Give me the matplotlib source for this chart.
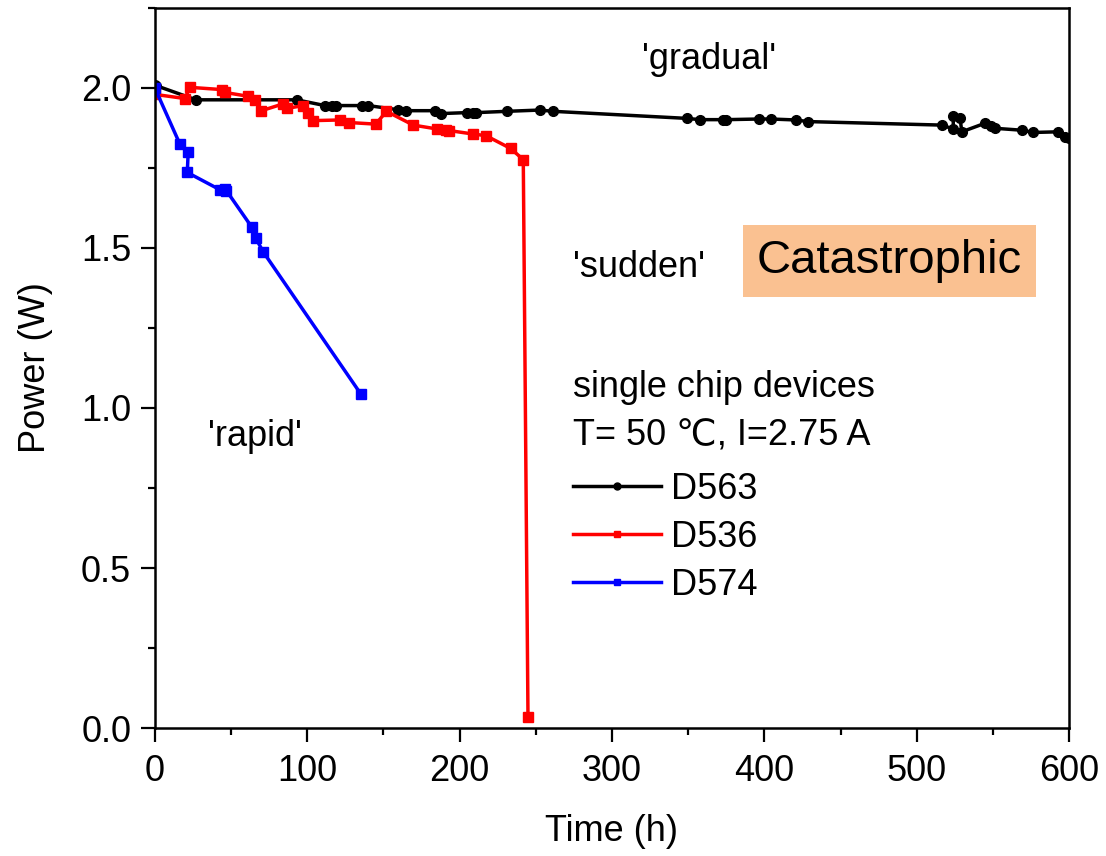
import numpy as np
import matplotlib
matplotlib.use('Agg')
import matplotlib.pyplot as plt
from matplotlib.ticker import MultipleLocator
from matplotlib.lines import Line2D

plt.rcParams['font.family'] = ['Liberation Sans', 'DejaVu Sans']

# D563 - 'gradual'
t_563 = [0, 1, 27, 93, 111.6, 116, 119, 135.7, 140, 159.7, 165, 183.8, 188,
         204.6, 209, 211, 230.9, 252.7, 261.5, 349, 357.8, 373, 375, 396.7,
         404.4, 420.8, 428.5, 516.4, 524, 524, 528.5, 529.6, 545, 549, 551.4,
         569, 576.6, 593, 597.4, 600]
p_563 = [2.01, 2.007, 1.963, 1.963, 1.945, 1.945, 1.945, 1.945, 1.945, 1.932,
         1.929, 1.929, 1.92, 1.923, 1.923, 1.923, 1.927, 1.931, 1.927, 1.905,
         1.901, 1.901, 1.901, 1.903, 1.903, 1.9, 1.895, 1.884, 1.872, 1.911,
         1.905, 1.863, 1.89, 1.882, 1.874, 1.868, 1.861, 1.863, 1.848, 1.845]

# D536 - 'sudden'
t_536 = [0, 19.7, 23, 43.8, 46, 61.3, 65.6, 70, 84, 86.5, 97.4, 100.5, 104,
         121.4, 127.6, 145, 152, 169.6, 185, 191.4, 193, 209, 217.3, 233.5,
         241.8, 244.9]
p_536 = [1.98, 1.967, 2.002, 1.995, 1.986, 1.974, 1.963, 1.929, 1.95, 1.936,
         1.945, 1.922, 1.898, 1.9, 1.892, 1.887, 1.927, 1.884, 1.872, 1.869,
         1.867, 1.856, 1.851, 1.811, 1.776, 0.034]

# D574 - 'rapid'
t_574 = [0, 16.4, 21.9, 21.3, 42.7, 46, 47, 63.5, 66.1, 71.1, 135]
p_574 = [2.0, 1.825, 1.801, 1.736, 1.682, 1.684, 1.679, 1.566, 1.532, 1.488,
         1.045]

fig = plt.figure(figsize=(11.06, 8.56), dpi=100)
ax = fig.add_axes([0.140, 0.1495, 0.8266, 0.8412])

ax.plot(t_563, p_563, '-o', color='black', lw=2.5, ms=7, label='D563')
ax.plot(t_536, p_536, '-s', color='#ff0000', lw=2.5, ms=7, label='D536')
ax.plot(t_574, p_574, '-s', color='#0000ff', lw=2.5, ms=7, label='D574')

ax.set_xlim(0, 600)
ax.set_ylim(0, 2.25)
ax.xaxis.set_major_locator(MultipleLocator(100))
ax.xaxis.set_minor_locator(MultipleLocator(50))
ax.yaxis.set_major_locator(MultipleLocator(0.5))
ax.yaxis.set_minor_locator(MultipleLocator(0.25))
ax.yaxis.set_major_formatter(plt.FormatStrFormatter('%.1f'))
ax.tick_params(which='major', direction='out', length=10, width=1.6, labelsize=26, pad=7)
ax.tick_params(axis='x', which='major', pad=9)
ax.tick_params(which='minor', direction='out', length=5, width=1.6)
for s in ax.spines.values():
    s.set_linewidth(1.8)

ax.set_xlabel('Time (h)', fontsize=26, labelpad=18)
ax.set_ylabel('Power (W)', fontsize=26, labelpad=20)

ax.text(364, 2.09, "'gradual'", fontsize=26, ha='center', va='center')
ax.text(318, 1.44, "'sudden'", fontsize=26, ha='center', va='center')
ax.text(65.6, 0.91, "'rapid'", fontsize=26, ha='center', va='center')
ax.text(482, 1.459, 'Catastrophic', fontsize=34, ha='center', va='center',
        bbox=dict(boxstyle='square,pad=0.3', fc='#fac191', ec='none'))

ax.text(274.4, 1.064, 'single chip devices', fontsize=26, ha='left', va='center')
ax.text(274.4, 0.911, 'T= 50 \u2103, I=2.75 A', fontsize=26, ha='left', va='center')

handles = [Line2D([], [], color='black', marker='o', lw=2.5, ms=5),
           Line2D([], [], color='#ff0000', marker='s', lw=2.5, ms=5),
           Line2D([], [], color='#0000ff', marker='s', lw=2.5, ms=5)]
ax.legend(handles, ['D563', 'D536', 'D574'], loc='upper left',
          bbox_to_anchor=(0.457, 0.356), frameon=False, fontsize=26,
          handlelength=2.45, handletextpad=0.28, labelspacing=0.36,
          borderpad=0, borderaxespad=0)

fig.savefig('out.png', dpi=100)
